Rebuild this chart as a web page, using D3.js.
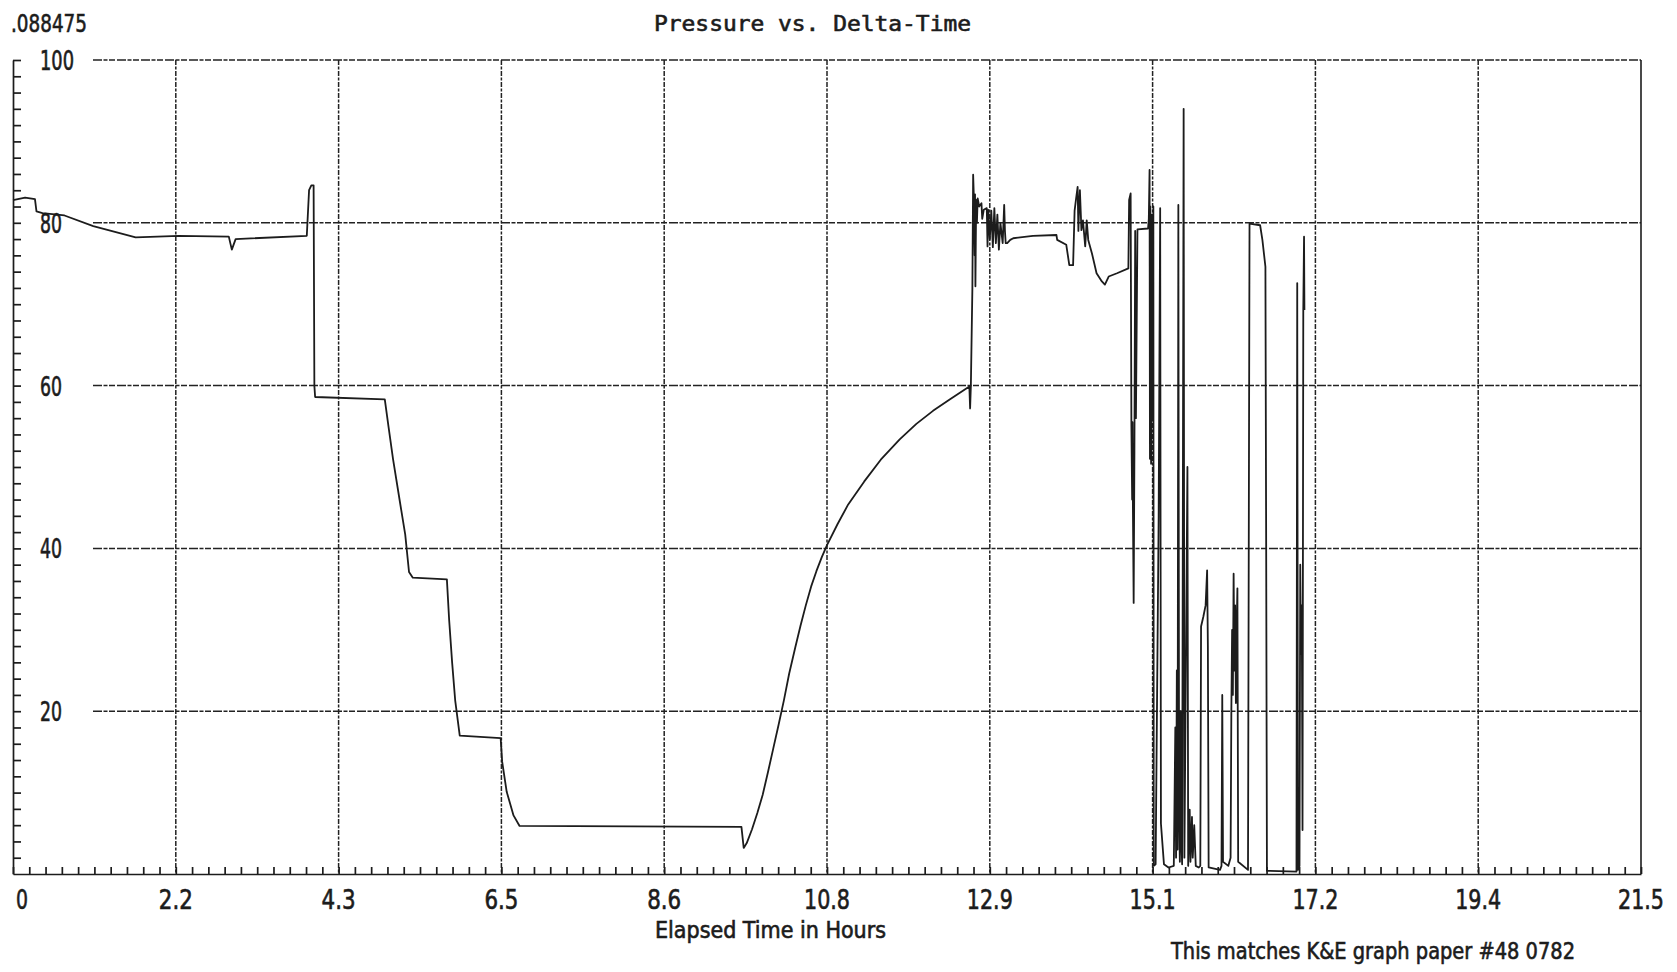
<!DOCTYPE html>
<html>
<head>
<meta charset="utf-8">
<script src="https://cdn.jsdelivr.net/npm/d3@7"></script>
<style>
  body { margin: 0; background: #fff; }
  svg text { fill: #1c1c1c; stroke: #1c1c1c; stroke-width: 0.6px; }
</style>
</head>
<body>
<svg id="chart" width="1677" height="972"></svg>
<script>
// Tick labels along each axis
const xTickLabels = ["0", "2.2", "4.3", "6.5", "8.6", "10.8", "12.9", "15.1", "17.2", "19.4", "21.5"];
const yTickLabels = ["20", "40", "60", "80", "100"];

// Elapsed time (hours) and recorded pressure
const hours = [
  0.00, 0.16, 0.29, 0.31, 0.39, 0.68, 1.06, 1.62, 2.19, 2.85, 2.89, 2.94, 3.88, 3.91, 3.94, 3.97, 3.98, 3.99,
  4.91, 4.96, 5.02, 5.11, 5.18, 5.23, 5.28, 5.73, 5.76, 5.80, 5.84, 5.90, 6.44, 6.46, 6.52, 6.61, 6.69,
  9.62, 9.65, 9.69, 9.76, 9.83, 9.90, 9.97, 10.04, 10.11, 10.18, 10.25, 10.33, 10.40, 10.47, 10.54, 10.61,
  10.68, 10.75, 10.89, 11.03, 11.24, 11.46, 11.71, 11.93, 12.15, 12.37, 12.63,
  12.64, 12.65, 12.67, 12.68, 12.69, 12.70, 12.705, 12.71, 12.72, 12.73, 12.74, 12.76, 12.79, 12.80, 12.82,
  12.86, 12.87, 12.88, 12.90, 12.92, 12.94, 12.96, 12.98, 13.00, 13.02, 13.04, 13.07, 13.09, 13.10, 13.11,
  13.13, 13.17, 13.21, 13.47, 13.78, 13.79, 13.91, 13.95, 14.00, 14.02, 14.04, 14.06, 14.07, 14.08, 14.09,
  14.11, 14.13, 14.16, 14.18, 14.20, 14.25, 14.31, 14.38, 14.42, 14.47, 14.58, 14.73, 14.74, 14.76,
  14.77, 14.78, 14.785, 14.79, 14.80, 14.81, 14.82, 14.83, 14.85, 14.99,
  15.00, 15.01, 15.015, 15.02, 15.03, 15.04, 15.05, 15.06, 15.065, 15.09, 15.13, 15.15, 15.16, 15.20, 15.26,
  15.33, 15.35, 15.36, 15.37, 15.38, 15.39, 15.40, 15.41, 15.42, 15.43, 15.44, 15.46, 15.47, 15.51, 15.52,
  15.54, 15.55, 15.57, 15.58, 15.60, 15.62, 15.66, 15.68, 15.69, 15.72, 15.75, 15.77, 15.78, 15.79, 15.94,
  15.96, 15.97, 15.98, 16.05, 16.08, 16.09, 16.10, 16.11, 16.12, 16.13, 16.14, 16.15, 16.16, 16.17, 16.18,
  16.31, 16.33, 16.47, 16.50, 16.54, 16.55, 16.56, 16.95, 16.96, 16.97, 16.99, 17.00, 17.01, 17.02, 17.03,
  17.04, 17.05, 17.055
];
const pressure = [
  82.8, 83.1, 82.9, 81.4, 81.2, 80.9, 79.6, 78.2, 78.4, 78.3, 76.7, 78.0, 78.4, 84.0, 84.6, 84.6, 60.0, 58.6,
  58.3, 54.9, 50.9, 45.7, 41.7, 37.1, 36.4, 36.2, 31.2, 25.9, 21.3, 17.0, 16.7, 13.8, 10.1, 7.2, 5.9,
  5.8, 3.2, 3.8, 5.5, 7.5, 9.7, 12.5, 15.4, 18.3, 21.3, 24.6, 27.8, 30.5, 33.0, 35.3, 37.2,
  38.9, 40.4, 43.0, 45.4, 48.2, 50.9, 53.4, 55.3, 56.9, 58.3, 59.9,
  57.2, 60.0, 72.0, 85.9, 83.0, 76.0, 83.5, 72.2, 82.8, 80.0, 83.0, 82.0, 82.4, 80.5, 81.6,
  81.8, 77.1, 81.6, 78.0, 81.5, 77.0, 81.8, 77.5, 81.0, 76.7, 80.0, 77.5, 82.2, 79.0, 77.5,
  77.5, 77.9, 78.1, 78.4, 78.5, 77.9, 77.3, 74.8, 74.8, 81.5, 83.0, 84.4, 79.0, 82.0, 84.0,
  79.1, 80.3, 77.1, 80.3, 77.9, 76.2, 73.8, 72.8, 72.4, 73.4, 73.8, 74.4, 82.8, 83.6,
  55.0, 46.0, 55.5, 45.0, 33.3, 52.0, 79.0, 56.0, 79.2, 79.3,
  80.5, 86.5, 51.0, 82.0, 50.4, 81.0, 56.0, 82.0, 1.0, 1.2, 44.0, 81.8, 6.2, 1.2, 0.8,
  1.0, 18.0, 2.0, 25.0, 3.0, 82.2, 8.0, 1.5, 20.0, 4.0, 1.2, 94.0, 2.0, 50.0, 1.0,
  7.9, 1.5, 7.0, 2.0, 6.0, 1.0, 0.8, 1.0, 30.4, 31.6, 33.0, 37.3, 28.0, 0.8, 0.5,
  1.0, 22.0, 1.5, 1.0, 2.0, 20.0, 30.0, 22.0, 36.9, 25.0, 33.0, 21.0, 30.0, 35.1, 1.5,
  0.5, 79.9, 79.7, 77.9, 74.6, 40.0, 0.4, 0.3, 72.6, 0.5, 1.0, 38.0, 27.0, 33.0, 5.4,
  69.3, 78.3, 69.3
];

const svg = d3.select("#chart");
const plotLeft = 13, plotRight = 1641, plotTop = 60, plotBottom = 874;

const x = d3.scaleLinear().domain([0, 21.5]).range([plotLeft, plotRight]);
const y = d3.scaleLinear().domain([0, 100]).range([plotBottom, plotTop]);

const ink = "#1c1c1c";
const condensed = "'Liberation Sans Narrow', 'DejaVu Sans Condensed', 'DejaVu Sans', sans-serif";

// Major grid positions: ten equal divisions of the time range
const xMajor = d3.range(11).map(i => 21.5 * i / 10);
const yMajor = yTickLabels.map(Number);

// Horizontal grid lines
svg.append("g")
  .selectAll("line")
  .data(yMajor)
  .join("line")
  .attr("x1", 93).attr("x2", plotRight)
  .attr("y1", d => y(d)).attr("y2", d => y(d))
  .attr("stroke", "#222")
  .attr("stroke-width", 1.5)
  .attr("stroke-dasharray", "9 1.5 4 1.5 6 2");

// Vertical grid lines
svg.append("g")
  .selectAll("line")
  .data(xMajor.slice(1, 10))
  .join("line")
  .attr("x1", d => x(d)).attr("x2", d => x(d))
  .attr("y1", plotTop).attr("y2", plotBottom)
  .attr("stroke", "#222")
  .attr("stroke-width", 1.5)
  .attr("stroke-dasharray", "5 1.5 3 1.5");

// Right border
svg.append("line")
  .attr("x1", plotRight).attr("x2", plotRight)
  .attr("y1", plotTop).attr("y2", plotBottom)
  .attr("stroke", ink).attr("stroke-width", 1.6);

// Bottom axis with minor ticks pointing inward
const xMinor = d3.range(101).map(i => 21.5 * i / 100);
svg.append("g")
  .attr("transform", `translate(0,${plotBottom})`)
  .call(d3.axisBottom(x).tickValues(xMinor).tickSize(-7).tickSizeOuter(0).tickFormat(""))
  .call(g => g.selectAll("path,line").attr("stroke", ink).attr("stroke-width", 1.7));

// Left axis with minor ticks every two units
svg.append("g")
  .attr("transform", `translate(${plotLeft},0)`)
  .call(d3.axisLeft(y).tickValues(d3.range(2, 101, 2)).tickSize(-8).tickSizeOuter(0).tickFormat(""))
  .call(g => g.selectAll("path,line").attr("stroke", ink).attr("stroke-width", 1.7));

// Width of a label in the plotter lettering
const labelWidth = s => s.split("").reduce((w, c) => w + (c === "." ? 10 : 12), 0);

// X tick labels
svg.append("g")
  .selectAll("text")
  .data(xMajor)
  .join("text")
  .attr("x", (d, i) => i === 0 ? x(d) + 9 : x(d))
  .attr("y", 909)
  .attr("text-anchor", "middle")
  .attr("font-family", condensed)
  .attr("font-size", 26)
  .attr("textLength", (d, i) => labelWidth(xTickLabels[i]))
  .attr("lengthAdjust", "spacingAndGlyphs")
  .text((d, i) => xTickLabels[i]);

// Y tick labels
svg.append("g")
  .selectAll("text")
  .data(yMajor)
  .join("text")
  .attr("x", 40)
  .attr("y", d => y(d) + 10)
  .attr("font-family", condensed)
  .attr("font-size", 26)
  .attr("textLength", (d, i) => labelWidth(yTickLabels[i]) - 2)
  .attr("lengthAdjust", "spacingAndGlyphs")
  .text((d, i) => yTickLabels[i]);

// Pressure trace
const points = hours.map((h, i) => [h, pressure[i]]);
svg.append("path")
  .datum(points)
  .attr("fill", "none")
  .attr("stroke", ink)
  .attr("stroke-width", 1.8)
  .attr("stroke-linejoin", "round")
  .attr("d", d3.line().x(d => x(d[0])).y(d => y(d[1])));

// Header and captions
svg.append("text")
  .attr("x", 11).attr("y", 32)
  .attr("font-family", condensed).attr("font-size", 25)
  .attr("textLength", 76).attr("lengthAdjust", "spacingAndGlyphs")
  .text(".088475");

svg.append("text")
  .attr("x", 654).attr("y", 31)
  .attr("font-family", "'DejaVu Sans Mono', 'Liberation Mono', monospace")
  .attr("font-size", 21)
  .attr("textLength", 317).attr("lengthAdjust", "spacingAndGlyphs")
  .text("Pressure vs. Delta-Time");

svg.append("text")
  .attr("x", 655).attr("y", 938)
  .attr("font-family", condensed).attr("font-size", 23)
  .attr("textLength", 231).attr("lengthAdjust", "spacingAndGlyphs")
  .text("Elapsed Time in Hours");

svg.append("text")
  .attr("x", 1171).attr("y", 959)
  .attr("font-family", condensed).attr("font-size", 23)
  .attr("textLength", 404).attr("lengthAdjust", "spacingAndGlyphs")
  .text("This matches K&E graph paper #48 0782");
</script>
</body>
</html>
